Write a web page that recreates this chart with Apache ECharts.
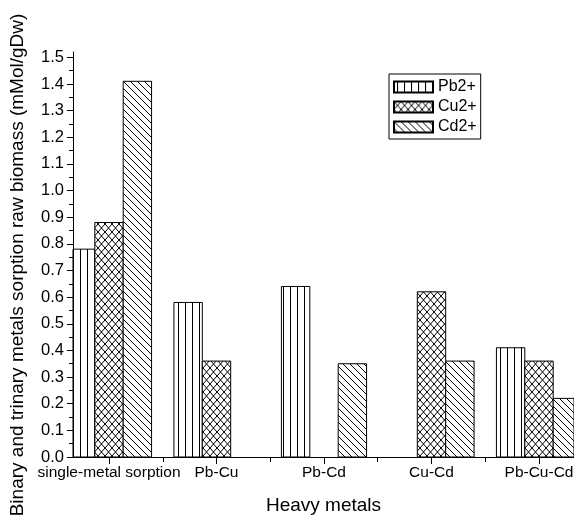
<!DOCTYPE html>
<html>
<head>
<meta charset="utf-8">
<script src="https://cdn.jsdelivr.net/npm/echarts@6/dist/echarts.min.js"></script>
<style>
  html, body { margin: 0; padding: 0; background: #fff; }
  #chart { width: 574px; height: 519px; }
</style>
</head>
<body>
<div id="chart"></div>
<script>
// 数据
const categories = ['single-metal sorption', 'Pb-Cu', 'Pb-Cd', 'Cu-Cd', 'Pb-Cu-Cd'];
const pbValues = [0.78, 0.58, 0.64, null, 0.41];
const cuValues = [0.88, 0.36, null, 0.62, 0.36];
const cdValues = [1.41, null, 0.35, 0.36, 0.22];
const yTicks = [0, 0.1, 0.2, 0.3, 0.4, 0.5, 0.6, 0.7, 0.8, 0.9, 1.0, 1.1, 1.2, 1.3, 1.4, 1.5];
const yMinorTicks = [0.05, 0.15, 0.25, 0.35, 0.45, 0.55, 0.65, 0.75, 0.85, 0.95, 1.05, 1.15, 1.25, 1.35, 1.45];
const xCenterTicks = [0, 1, 2, 3, 4];
const xBoundaryTicks = [0.5, 1.5, 2.5, 3.5];

const FONT = 'Liberation Sans, Arial, Helvetica, sans-serif';

// 填充图案
function makePattern(kind) {
  const w = 7, h = kind === 'cross' ? 8 : 7;
  const c = document.createElement('canvas');
  c.width = w;
  c.height = h;
  const ctx = c.getContext('2d');
  ctx.fillStyle = '#fff';
  ctx.fillRect(0, 0, w, h);
  ctx.strokeStyle = '#000';
  ctx.lineWidth = 1;
  ctx.beginPath();
  if (kind === 'vertical') {
    ctx.moveTo(3.5, 0);
    ctx.lineTo(3.5, h);
  } else {
    for (const k of [-w, 0, w]) {
      ctx.moveTo(k, 0);
      ctx.lineTo(k + w, h);
      if (kind === 'cross') {
        ctx.moveTo(k + w, 0);
        ctx.lineTo(k, h);
      }
    }
  }
  ctx.stroke();
  return { image: c, repeat: 'repeat' };
}

function toPoints(values) {
  return values
    .map((v, i) => (v == null ? null : [i, v]))
    .filter(p => p !== null);
}

const chart = echarts.init(document.getElementById('chart'));

// x 轴从第一组柱子中间截断（原图如此）
const xMin = -0.3349;
const xMax = 4.3256;
const BAR_FRACTION = 0.264; // 每根柱子占一个分类宽度的比例

function barSeries(name, values, kind, slot) {
  const pattern = makePattern(kind);
  return {
    name: name,
    type: 'custom',
    xAxisIndex: 0,
    yAxisIndex: 0,
    data: toPoints(values),
    itemStyle: { color: pattern, borderColor: '#000', borderWidth: 1 },
    renderItem: function (params, api) {
      const x = api.value(0);
      const base = api.coord([x, 0]);
      const top = api.coord([x, api.value(1)]);
      const bw = api.size([1, 0])[0] * BAR_FRACTION;
      const rect = echarts.graphic.clipRectByRect(
        { x: base[0] + (slot - 1.5) * bw, y: top[1], width: bw, height: base[1] - top[1] },
        { x: params.coordSys.x, y: params.coordSys.y, width: params.coordSys.width, height: params.coordSys.height }
      );
      if (!rect) return null;
      return {
        type: 'rect',
        shape: rect,
        style: { fill: pattern, stroke: '#000', lineWidth: 1 }
      };
    }
  };
}

const option = {
  animation: false,
  backgroundColor: '#fff',
  textStyle: { fontFamily: FONT, color: '#000' },
  grid: {
    left: 73,
    right: 0,
    top: 52,
    bottom: 62,
    containLabel: false,
    outerBoundsMode: 'none'
  },
  legend: {
    orient: 'vertical',
    left: 389,
    top: 74,
    padding: [5, 4, 4, 4],
    itemGap: 4,
    itemWidth: 39,
    itemHeight: 11,
    icon: 'rect',
    borderColor: '#000',
    borderWidth: 1,
    textStyle: { fontFamily: FONT, fontSize: 16, color: '#000', lineHeight: 16 },
    data: ['Pb2+', 'Cu2+', 'Cd2+']
  },
  xAxis: [
    {
      type: 'value',
      position: 'bottom',
      min: xMin,
      max: xMax,
      name: 'Heavy metals',
      nameLocation: 'middle',
      nameGap: 39,
      nameTextStyle: { fontFamily: FONT, fontSize: 19, color: '#000' },
      axisLine: { show: true, onZero: false, lineStyle: { color: '#000', width: 1 } },
      axisTick: { show: true, customValues: xCenterTicks, length: 7, lineStyle: { color: '#000' } },
      axisLabel: {
        show: true,
        customValues: xCenterTicks,
        margin: 8,
        fontFamily: FONT,
        fontSize: 15.5,
        color: '#000',
        formatter: v => categories[Math.round(v)]
      },
      splitLine: { show: false }
    },
    {
      type: 'value',
      position: 'bottom',
      min: xMin,
      max: xMax,
      axisLine: { show: false, onZero: false },
      axisTick: { show: true, customValues: xBoundaryTicks, length: 5, lineStyle: { color: '#000' } },
      axisLabel: { show: false },
      splitLine: { show: false }
    }
  ],
  yAxis: [
    {
      type: 'value',
      position: 'left',
      min: 0,
      max: 1.52,
      name: 'Binary and trinary metals sorption raw biomass (mMol/gDw)',
      nameLocation: 'middle',
      nameGap: 46,
      nameTextStyle: { fontFamily: FONT, fontSize: 19, color: '#000', padding: [0, 21, 0, 0] },
      axisLine: { show: true, onZero: false, lineStyle: { color: '#000', width: 1 } },
      axisTick: { show: true, customValues: yTicks, length: 6, lineStyle: { color: '#000' } },
      axisLabel: {
        show: true,
        customValues: yTicks,
        margin: 9,
        fontFamily: FONT,
        fontSize: 16.5,
        color: '#000',
        formatter: v => v.toFixed(1)
      },
      splitLine: { show: false }
    },
    {
      type: 'value',
      position: 'left',
      min: 0,
      max: 1.52,
      axisLine: { show: false, onZero: false },
      axisTick: { show: true, customValues: yMinorTicks, length: 4, lineStyle: { color: '#000' } },
      axisLabel: { show: false },
      splitLine: { show: false }
    }
  ],
  series: [
    barSeries('Pb2+', pbValues, 'vertical', 0),
    barSeries('Cu2+', cuValues, 'cross', 1),
    barSeries('Cd2+', cdValues, 'diag', 2)
  ]
};

chart.setOption(option);
</script>
</body>
</html>
